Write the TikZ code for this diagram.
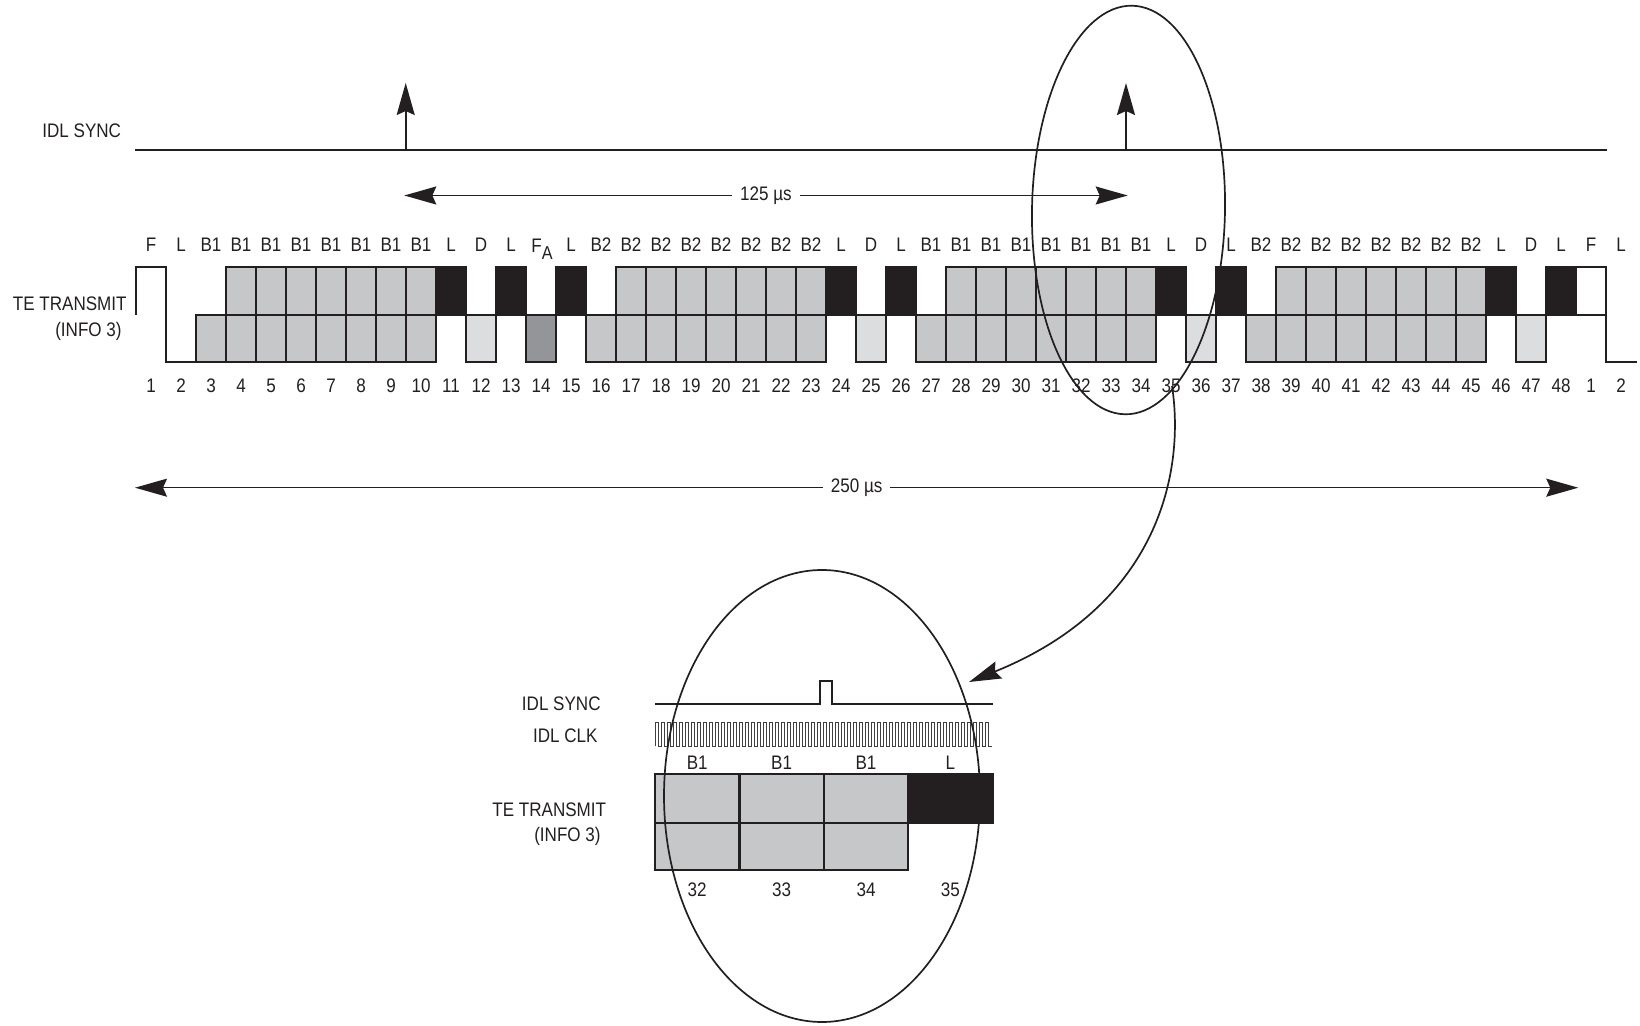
\documentclass[tikz,border=0pt]{standalone}
\usepackage{fontspec}
\setmainfont{Liberation Sans}[FakeStretch=0.87]
\usetikzlibrary{arrows.meta,shapes.geometric}
\definecolor{cellgray}{HTML}{C6C7C9}
\definecolor{dgray}{HTML}{DCDDDF}
\definecolor{fagray}{HTML}{939598}
\definecolor{lblack}{HTML}{231F20}
\begin{document}
\begin{tikzpicture}[x=0.5pt,y=-0.5pt,
  txt/.style={font=\fontsize{9.8}{11}\selectfont, inner sep=0pt, text=lblack},
  sig/.style={line width=0.85pt, draw=lblack},
  dimarrow/.style={line width=0.8pt, draw=lblack, {Stealth[length=16pt,width=9pt,inset=2pt]}-{Stealth[length=16pt,width=9pt,inset=2pt]}},
  arrowhd/.style={-{Stealth[length=16pt,width=9pt,inset=2pt]}},
  cellg/.style={draw=lblack, line width=1.15pt, fill=cellgray},
  cellk/.style={draw=lblack, line width=1.15pt, fill=lblack},
  celld/.style={draw=lblack, line width=1.15pt, fill=dgray},
  cellf/.style={draw=lblack, line width=1.15pt, fill=fagray},
  wave/.style={draw=lblack, line width=1.15pt},
  clk/.style={draw=black!75, line width=0.45pt},
  zoomring/.style={draw=lblack, line width=0.85pt, ellipse, inner sep=0pt},
]
\useasboundingbox (0,0) rectangle (1640,1026);

% ---------- upper IDL SYNC ----------
\node[txt] (syncA) at (81.7,131) {IDL SYNC};
\coordinate (syncL) at (135,150);
\coordinate (syncR) at (1607,150);
\draw[sig] (syncL) -- (syncR);
\coordinate (s1b) at (405.7,150);
\coordinate (s1t) at (405.7,83);
\coordinate (s2b) at (1126,150);
\coordinate (s2t) at (1126,83);
\draw[sig,arrowhd] (s1b) -- (s1t);
\draw[sig,arrowhd] (s2b) -- (s2t);

% 125 us
\coordinate (t125L) at (404.3,195.5);
\coordinate (t125R) at (1127.7,195.5);
\draw[dimarrow] (t125L) -- node[txt,fill=white,inner xsep=4pt,inner ysep=2pt] (t125) {125 µs} (t125R);

% ---------- waveform ----------
\node[txt,anchor=east] (teA) at (127,304) {TE TRANSMIT};
\node[txt,anchor=east] (infoA) at (122,331) {(INFO 3)};

\draw[wave] (136,315) -- (136,267) -- (166,267) -- (166,362) -- (196,362);
\foreach \s in {3,16,27,38} {
  \foreach \k in {0,...,7} {
    \pgfmathtruncatemacro\n{\s+\k}
    \path[cellg] ({136+(\n-1)*30},315) rectangle ({136+\n*30},362);
  }
  \foreach \k in {1,...,7} {
    \pgfmathtruncatemacro\n{\s+\k}
    \path[cellg] ({136+(\n-1)*30},267) rectangle ({136+\n*30},315);
  }
}
\foreach \n in {11,13,15,24,26,35,37,46,48}
  \path[cellk] ({136+(\n-1)*30},267) rectangle ({136+\n*30},315);
\foreach \n in {12,25,36,47}
  \path[celld] ({136+(\n-1)*30},315) rectangle ({136+\n*30},362);
\path[cellf] ({136+13*30},315) rectangle ({136+14*30},362);
\path[wave,fill=white] (1576,267) rectangle (1606,315);
\draw[wave] (1606,315) -- (1606,362) -- (1637,362);

% bit labels
\foreach \s/\t in {3/B1,16/B2,27/B1,38/B2}
  \foreach \k in {0,...,7} {
    \pgfmathtruncatemacro\n{\s+\k}
    \node[txt] (lab\n) at ({136+(\n-0.5)*30},245) {\t};
  }
\foreach \n/\t in {1/F,2/L,11/L,12/D,13/L,15/L,24/L,25/D,26/L,35/L,36/D,37/L,46/L,47/D,48/L,49/F,50/L}
  \node[txt] (lab\n) at ({136+(\n-0.5)*30},245) {\t};
\node[txt,anchor=north] (lab14) at (542,239) {F\raisebox{-0.6ex}{\fontsize{9.3}{10}\selectfont A}};

% bit numbers
\foreach \n in {1,...,48}
  \node[txt] (num\n) at ({136+(\n-0.5)*30},386) {\n};
\node[txt] (num49) at ({136+48.5*30},386) {1};
\node[txt] (num50) at ({136+49.5*30},386) {2};

% 250 us
\coordinate (t250L) at (135,487.7);
\coordinate (t250R) at (1578.3,487.7);
\draw[dimarrow] (t250L) -- node[txt,fill=white,inner xsep=4pt,inner ysep=2pt] (t250) {250 µs} (t250R);

% ---------- detail ----------
\node[txt,anchor=east] (syncB) at (601,704) {IDL SYNC};
\node[txt,anchor=east] (clkB) at (598,736) {IDL CLK};
\node[txt,anchor=east] (teB) at (606.5,810) {TE TRANSMIT};
\node[txt,anchor=east] (infoB) at (601,836) {(INFO 3)};

\draw[sig,line width=0.9pt] (655,704.3) -- (820,704.3) -- (820,680.7) -- (832,680.7) -- (832,704.3) -- (992.7,704.3);

\pgfmathsetmacro\p{(991.7-655)/56}
\draw[clk] (655,746) \foreach \k in {0,...,55} { -- ({655+\k*\p},722.5) -- ({655+(\k+0.5)*\p},722.5) -- ({655+(\k+0.5)*\p},746) -- ({655+(\k+1)*\p},746) };

\foreach \i in {0,1,2} {
  \path[cellg] ({655+\i*84.4},774.3) rectangle ({655+(\i+1)*84.4},822.7);
  \path[cellg] ({655+\i*84.4},822.7) rectangle ({655+(\i+1)*84.4},870);
}
\path[cellk] ({655+3*84.4},774.3) rectangle ({655+4*84.4},822.7);

\foreach \i/\t/\m in {0/B1/32,1/B1/33,2/B1/34,3/L/35} {
  \node[txt] (dlab\m) at ({655+(\i+0.5)*84.4},763) {\t};
  \node[txt] (dnum\m) at ({655+(\i+0.5)*84.4},889.5) {\m};
}

% ---------- rings and connector ----------
\node[zoomring, minimum width=96.5pt, minimum height=204.3pt, rotate=-1] (ringA) at (1128.5,210) {};
\node[zoomring, minimum width=158pt, minimum height=226pt] (ringB) at (822,796) {};
\coordinate (cS) at (1172,386);
\coordinate (cE) at (969,682);
\draw[sig,arrowhd] (cS) .. controls (1185,470) and (1160,605) .. (cE);
\end{tikzpicture}
\end{document}
